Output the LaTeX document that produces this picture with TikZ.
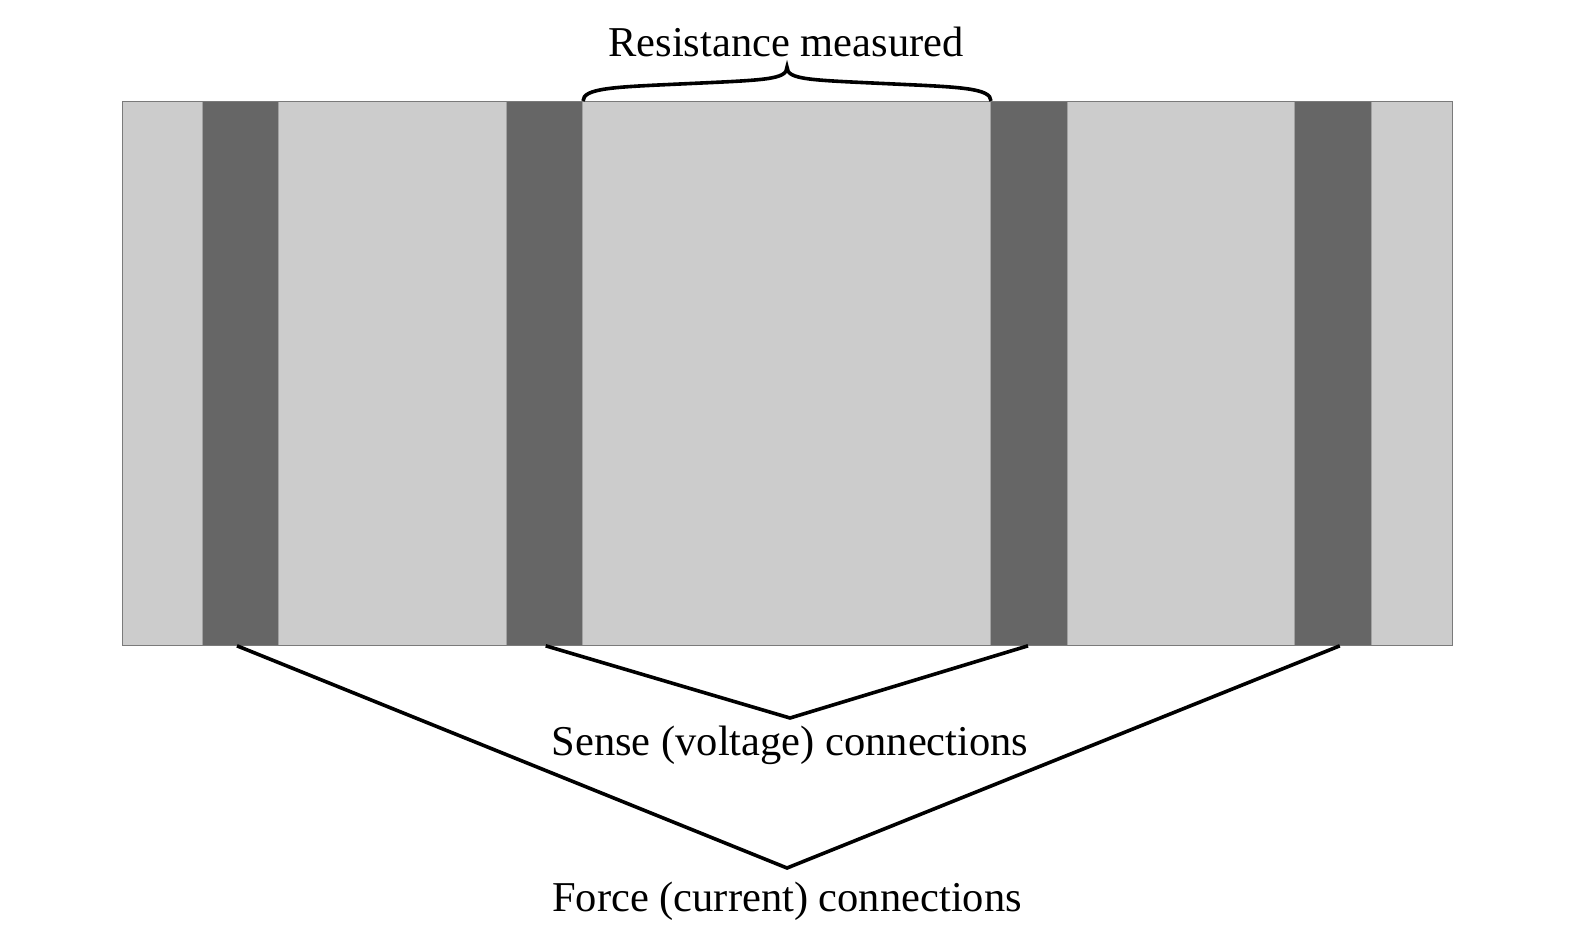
\documentclass[tikz,border=0pt]{standalone}
\usepackage{fontspec}
\setmainfont{Liberation Serif}
\definecolor{lightbar}{HTML}{CCCCCC}
\definecolor{darkbar}{HTML}{666666}
\definecolor{edgegray}{HTML}{7A7A7A}
\begin{document}
\begin{tikzpicture}[x=0.5pt,y=-0.5pt,
  bar/.style={rectangle,inner sep=0pt,fill=darkbar,draw=edgegray!70,line width=0.5pt,minimum width=38.25pt,minimum height=272pt},
  lead/.style={line width=1.8pt,line join=miter},
  lbl/.style={font=\fontsize{21.25pt}{25pt}\selectfont,anchor=base,inner sep=0pt}]
\useasboundingbox (0,0) rectangle (1588,937);
% resistor body
\fill[lightbar] (122.3,101.3) rectangle (1452.3,645.3);
\node[bar] (s1) at (240.5,373.3) {};
\node[bar] (s2) at (544.7,373.3) {};
\node[bar] (s3) at (1029,373.3) {};
\node[bar] (s4) at (1332.8,373.3) {};
\draw[edgegray,line width=0.8pt] (122.3,101.3) rectangle (1452.3,645.3);
% labels
\node[lbl] (res) at (786,56.7) {Resistance measured};
\node[lbl] (sense) at (790,755) {Sense (voltage) connections};
\node[lbl] (force) at (787,911.7) {Force (current) connections};
% apex coordinates
\coordinate (bl) at (583,101);
\coordinate (br) at (991,101);
\coordinate (btip) at (787,67);
\coordinate (sapex) at (790,718);
\coordinate (fapex) at (787,868);
% brace
\draw[line width=1.8pt] (bl) .. controls (583,88) and (615,87) .. (680,84)
  .. controls (765,80) and (787,80) .. (btip)
  .. controls (787,80) and (809,80) .. (894,84)
  .. controls (959,87) and (991,88) .. (br);
% sense leads
\draw[lead] ([xshift=0.5pt]s2.south) -- (sapex) -- ([xshift=-0.5pt]s3.south);
% force leads
\draw[lead] ([xshift=-1.75pt]s1.south) -- (fapex) -- ([xshift=3.5pt]s4.south);
\end{tikzpicture}
\end{document}
